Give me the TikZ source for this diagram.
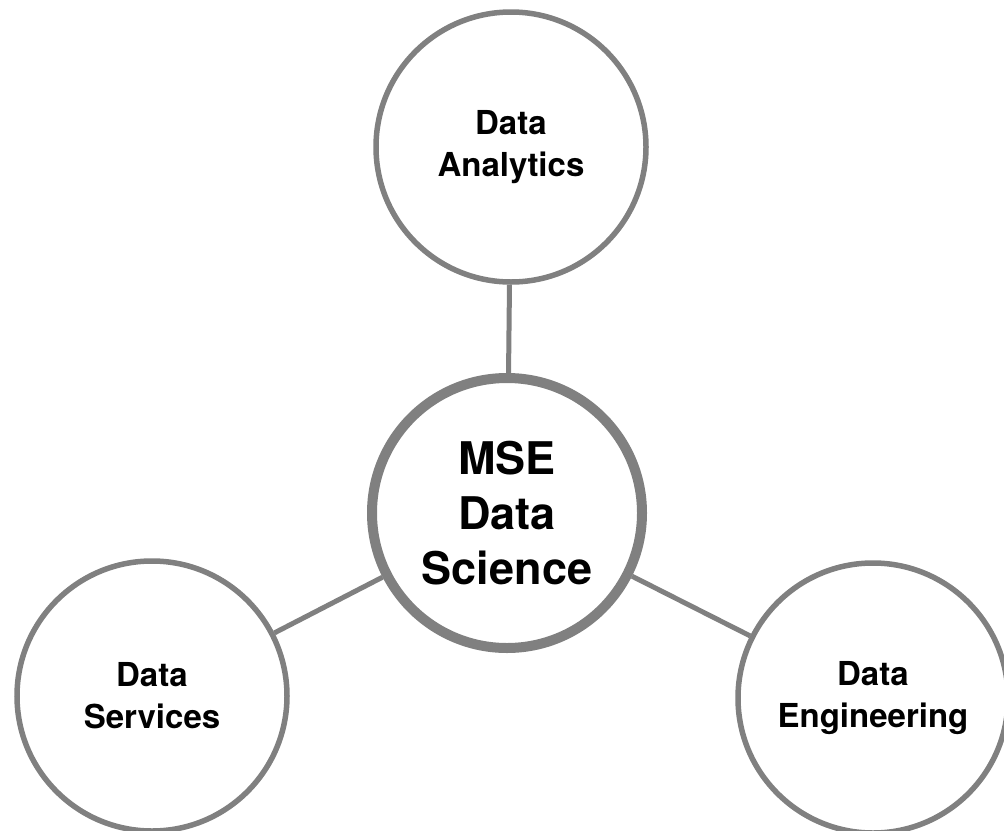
\documentclass[tikz,border=0pt]{standalone}
\usepackage{fontspec}
\setmainfont{TeX Gyre Heros}
\definecolor{ringgray}{HTML}{808080}
\tikzset{
  topic/.style={circle, draw=ringgray, line width=5.5pt, fill=white,
    minimum size=270pt, inner sep=0pt, align=center,
    font=\bfseries\fontsize{33}{42}\selectfont},
  hub/.style={topic, line width=10pt,
    font=\bfseries\fontsize{45}{55}\selectfont},
  link/.style={draw=ringgray, line width=5pt}
}
\begin{document}
\begin{tikzpicture}[x=1pt, y=-1pt]
  \clip (0,0) rectangle (1004,830);
  \useasboundingbox (0,0) rectangle (1004,830);
  \fill[white] (0,0) rectangle (1004,830);

  \node[hub]   (mse) at (507,513) {MSE\\Data\\Science};
  \node[topic] (ana) at (511,147) {Data\\Analytics};
  \node[topic] (srv) at (152,696) {Data\\Services};
  \node[topic] (eng) at (873,698) {Data\\Engineering};

  \draw[link] (mse) -- (ana);
  \draw[link] (mse) -- (srv);
  \draw[link] (mse) -- (eng);
\end{tikzpicture}
\end{document}
